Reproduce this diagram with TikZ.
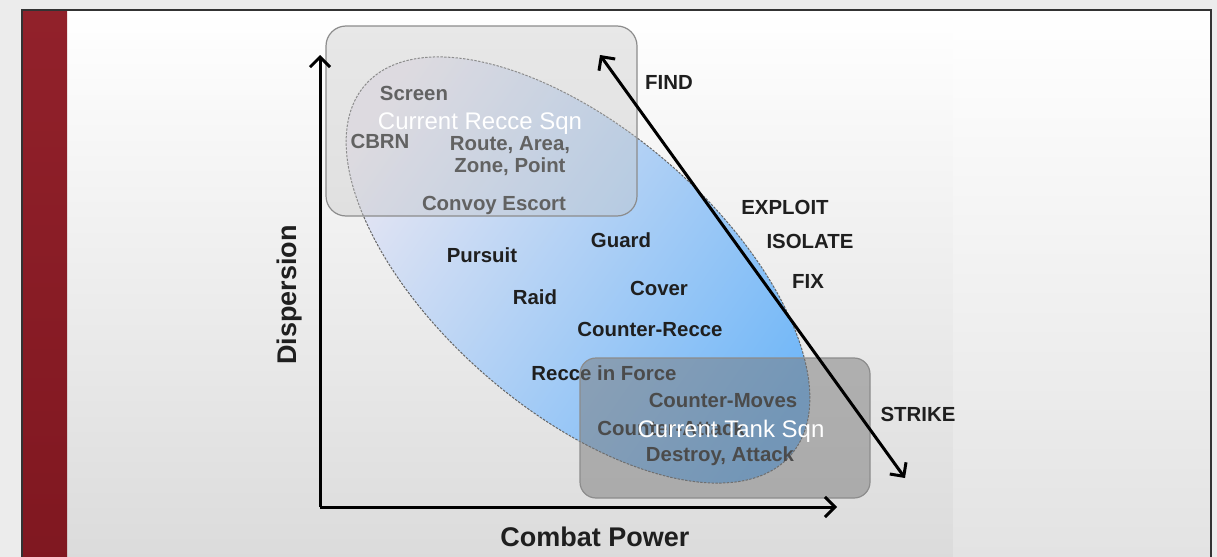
\documentclass[tikz,border=0pt]{standalone}
\usepackage{fontspec}
\setmainfont{Liberation Sans}
\usetikzlibrary{arrows.meta}

\definecolor{sqnred}{HTML}{8E1A24}
\definecolor{outergray}{HTML}{ECECEC}
\definecolor{recceblue}{HTML}{6EB6F8}
\definecolor{reccelilac}{HTML}{ECE8F2}

\tikzset{
    task/.style={font=\bfseries\fontsize{10.2}{12}\selectfont, text=black!88, inner sep=0pt, anchor=mid},
    sqnname/.style={font=\fontsize{12}{14}\selectfont, text=white, inner sep=0pt, anchor=mid},
    axislabel/.style={font=\bfseries\fontsize{13.5}{16}\selectfont, text=black!88, inner sep=0pt},
    sqnbox/.style={draw=black!45, line width=0.6pt},
    barb/.style={line width=1.5pt, {Straight Barb[length=5pt,width=10pt]}-{Straight Barb[length=5pt,width=10pt]}},
    axis/.style={line width=1.5pt, -{Straight Barb[length=5pt,width=10pt]}}
}

\begin{document}
\begin{tikzpicture}[x=0.5pt,y=-0.5pt]
    \useasboundingbox (0,0) rectangle (1217,557);
    % background and frame
    \fill[outergray] (0,0) rectangle (1217,557);
    \shade[top color=white, bottom color=black!14] (67,10) rectangle (953,557);
    \shade[top color=white, bottom color=black!11] (953,10) rectangle (1211,557);
    \shade[top color=sqnred!97!white, bottom color=sqnred!90!black] (22,10) rectangle (67,557);
    \draw[black!80, line width=0.6pt] (22,557) -- (22,10) -- (1211,10) -- (1211,557);

    % spread of tasks
    \begin{scope}[shift={(578,270)}, rotate=-41]
        \shade[top color=reccelilac, bottom color=recceblue, shading angle=55]
            (0,0) ellipse [x radius=141pt, y radius=70pt];
        \draw[black!60, line width=0.5pt, dash pattern=on 1.2pt off 0.7pt]
            (0,0) ellipse [x radius=141pt, y radius=70pt];
    \end{scope}

    \node[task] (screen) at (414,95) {Screen};
    \node[task] (cbrn) at (380,143) {CBRN};
    \node[task, anchor=center, align=center] (route) at (510,156) {Route, Area,\\[-1pt]Zone, Point};
    \node[task] (convoy) at (494,205) {Convoy Escort};
    \node[task] (pursuit) at (482,257) {Pursuit};
    \node[task] (guard) at (621,242) {Guard};
    \node[task] (raid) at (535,299) {Raid};
    \node[task] (cover) at (659,290) {Cover};
    \node[task] (ctrrecce) at (650,331) {Counter-Recce};
    \node[task] (reccefor) at (604,375) {Recce in Force};
    \node[task] (ctrmoves) at (723,402) {Counter-Moves};
    \node[task, anchor=mid west] (ctrattack) at (597,430) {Counter-Attack};
    \node[task] (destroy) at (720,456) {Destroy, Attack};

    % squadrons
    \fill[fill=black!22, fill opacity=0.4, rounded corners=10pt] (326,26) rectangle (637,216);
    \fill[fill=black!53, fill opacity=0.5, rounded corners=8pt] (580,358) rectangle (870,498);
    \draw[sqnbox, rounded corners=10pt] (326,26) rectangle (637,216);
    \draw[sqnbox, rounded corners=8pt] (580,358) rectangle (870,498);
    \node[sqnname] (reccesqn) at (480,124) {Current Recce Sqn};
    \node[sqnname] (tanksqn) at (731,432) {Current Tank Sqn};

    % axes
    \coordinate (origin) at (320,507);
    \coordinate (ytip) at (320,55);
    \coordinate (xtip) at (837,507);
    \draw[axis] (origin) -- (ytip);
    \draw[axis] (origin) -- (xtip);
    \node[axislabel, rotate=90] (disp) at (290,295) {Dispersion};
    \node[axislabel] (power) at (595,537) {Combat Power};

    % find to strike
    \coordinate (findtip) at (600,55);
    \coordinate (striketip) at (905,478);
    \draw[barb] (findtip) -- (striketip);
    \node[task] (find) at (669,84) {FIND};
    \node[task] (exploit) at (785,209) {EXPLOIT};
    \node[task] (isolate) at (810,243) {ISOLATE};
    \node[task] (fix) at (808,283) {FIX};
    \node[task] (strike) at (918,416) {STRIKE};
\end{tikzpicture}
\end{document}
